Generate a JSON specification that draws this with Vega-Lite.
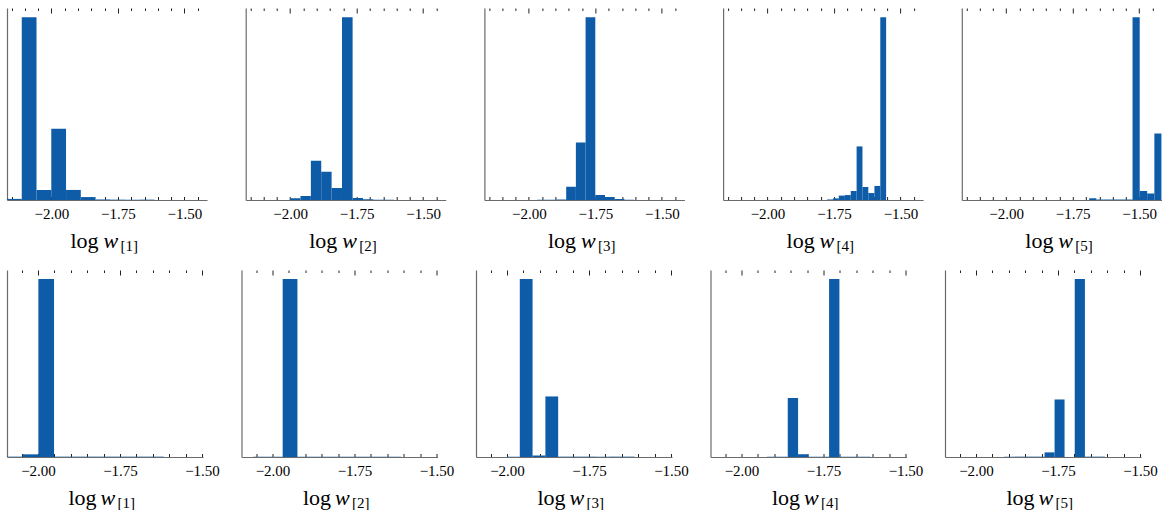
{
"$schema": "https://vega.github.io/schema/vega-lite/v6.json",
"padding": {"left": 4, "top": 7, "right": 0, "bottom": 0},
"background": "white",
"data": {"values": [
{"p":"t1","a":-2.167,"b":-2.1115,"h":0.006},{"p":"t1","a":-2.1115,"b":-2.056,"h":1.0},{"p":"t1","a":-2.056,"b":-2.0005,"h":0.055},{"p":"t1","a":-2.0005,"b":-1.945,"h":0.39},{"p":"t1","a":-1.945,"b":-1.8895,"h":0.055},{"p":"t1","a":-1.8895,"b":-1.834,"h":0.016},{"p":"t1","a":-1.834,"b":-1.7785,"h":0.003},{"p":"t1","a":-1.7785,"b":-1.723,"h":0.002},{"p":"t1","a":-1.723,"b":-1.6675,"h":0.001},{"p":"t1","a":-1.6675,"b":-1.612,"h":0.002},
{"p":"t2","a":-2.0,"b":-1.961,"h":0.009},{"p":"t2","a":-1.961,"b":-1.922,"h":0.022},{"p":"t2","a":-1.922,"b":-1.883,"h":0.214},{"p":"t2","a":-1.883,"b":-1.844,"h":0.154},{"p":"t2","a":-1.844,"b":-1.805,"h":0.066},{"p":"t2","a":-1.805,"b":-1.765,"h":1.0},{"p":"t2","a":-1.765,"b":-1.726,"h":0.011},{"p":"t2","a":-1.726,"b":-1.687,"h":0.004},{"p":"t2","a":-1.687,"b":-1.648,"h":0.002},{"p":"t2","a":-1.648,"b":-1.609,"h":0.002},
{"p":"t3","a":-1.969,"b":-1.9325,"h":0.002},{"p":"t3","a":-1.9325,"b":-1.896,"h":0.002},{"p":"t3","a":-1.896,"b":-1.8595,"h":0.003},{"p":"t3","a":-1.8595,"b":-1.823,"h":0.073},{"p":"t3","a":-1.823,"b":-1.7865,"h":0.314},{"p":"t3","a":-1.7865,"b":-1.75,"h":1.0},{"p":"t3","a":-1.75,"b":-1.7135,"h":0.027},{"p":"t3","a":-1.7135,"b":-1.677,"h":0.016},{"p":"t3","a":-1.677,"b":-1.6405,"h":0.005},{"p":"t3","a":-1.6405,"b":-1.604,"h":0.002},
{"p":"t4","a":-1.776,"b":-1.754,"h":0.003},{"p":"t4","a":-1.754,"b":-1.732,"h":0.009},{"p":"t4","a":-1.732,"b":-1.709,"h":0.024},{"p":"t4","a":-1.709,"b":-1.687,"h":0.027},{"p":"t4","a":-1.687,"b":-1.665,"h":0.049},{"p":"t4","a":-1.665,"b":-1.643,"h":0.293},{"p":"t4","a":-1.643,"b":-1.621,"h":0.071},{"p":"t4","a":-1.621,"b":-1.598,"h":0.038},{"p":"t4","a":-1.598,"b":-1.576,"h":0.077},{"p":"t4","a":-1.576,"b":-1.554,"h":1.0},
{"p":"t5","a":-1.688,"b":-1.661,"h":0.009},{"p":"t5","a":-1.661,"b":-1.634,"h":0.003},{"p":"t5","a":-1.634,"b":-1.606,"h":0.003},{"p":"t5","a":-1.606,"b":-1.579,"h":0.003},{"p":"t5","a":-1.579,"b":-1.552,"h":0.003},{"p":"t5","a":-1.552,"b":-1.525,"h":0.003},{"p":"t5","a":-1.525,"b":-1.498,"h":1.0},{"p":"t5","a":-1.498,"b":-1.47,"h":0.049},{"p":"t5","a":-1.47,"b":-1.443,"h":0.035},{"p":"t5","a":-1.443,"b":-1.416,"h":0.364},
{"p":"b1","a":-2.0945,"b":-2.0467,"h":0.002},{"p":"b1","a":-2.0467,"b":-1.9989,"h":0.015},{"p":"b1","a":-1.9989,"b":-1.9511,"h":1.0},{"p":"b1","a":-1.9511,"b":-1.9033,"h":0.002},{"p":"b1","a":-1.9033,"b":-1.8555,"h":0.002},{"p":"b1","a":-1.8555,"b":-1.8077,"h":0.002},{"p":"b1","a":-1.8077,"b":-1.7599,"h":0.002},{"p":"b1","a":-1.7599,"b":-1.7121,"h":0.002},{"p":"b1","a":-1.7121,"b":-1.6643,"h":0.002},{"p":"b1","a":-1.6643,"b":-1.6165,"h":0.002},
{"p":"b2","a":-2.059,"b":-2.014,"h":0.002},{"p":"b2","a":-2.014,"b":-1.969,"h":0.002},{"p":"b2","a":-1.969,"b":-1.924,"h":1.0},{"p":"b2","a":-1.924,"b":-1.879,"h":0.002},{"p":"b2","a":-1.879,"b":-1.834,"h":0.002},{"p":"b2","a":-1.834,"b":-1.788,"h":0.002},{"p":"b2","a":-1.788,"b":-1.743,"h":0.002},{"p":"b2","a":-1.743,"b":-1.698,"h":0.002},{"p":"b2","a":-1.698,"b":-1.653,"h":0.002},{"p":"b2","a":-1.653,"b":-1.608,"h":0.002},
{"p":"b3","a":-2.0,"b":-1.961,"h":0.002},{"p":"b3","a":-1.961,"b":-1.922,"h":1.0},{"p":"b3","a":-1.922,"b":-1.883,"h":0.009},{"p":"b3","a":-1.883,"b":-1.844,"h":0.34},{"p":"b3","a":-1.844,"b":-1.806,"h":0.002},{"p":"b3","a":-1.806,"b":-1.767,"h":0.002},{"p":"b3","a":-1.767,"b":-1.728,"h":0.002},{"p":"b3","a":-1.728,"b":-1.689,"h":0.002},{"p":"b3","a":-1.689,"b":-1.65,"h":0.002},{"p":"b3","a":-1.65,"b":-1.611,"h":0.002},
{"p":"b4","a":-1.922,"b":-1.8905,"h":0.002},{"p":"b4","a":-1.8905,"b":-1.859,"h":0.002},{"p":"b4","a":-1.859,"b":-1.8275,"h":0.331},{"p":"b4","a":-1.8275,"b":-1.796,"h":0.015},{"p":"b4","a":-1.796,"b":-1.7645,"h":0.002},{"p":"b4","a":-1.7645,"b":-1.733,"h":0.002},{"p":"b4","a":-1.733,"b":-1.7015,"h":1.0},{"p":"b4","a":-1.7015,"b":-1.67,"h":0.002},{"p":"b4","a":-1.67,"b":-1.6385,"h":0.002},{"p":"b4","a":-1.6385,"b":-1.607,"h":0.002},
{"p":"b5","a":-1.914,"b":-1.883,"h":0.002},{"p":"b5","a":-1.883,"b":-1.853,"h":0.002},{"p":"b5","a":-1.853,"b":-1.822,"h":0.002},{"p":"b5","a":-1.822,"b":-1.791,"h":0.002},{"p":"b5","a":-1.791,"b":-1.7605,"h":0.026},{"p":"b5","a":-1.7605,"b":-1.73,"h":0.323},{"p":"b5","a":-1.73,"b":-1.699,"h":0.0},{"p":"b5","a":-1.699,"b":-1.668,"h":1.0},{"p":"b5","a":-1.668,"b":-1.638,"h":0.002},{"p":"b5","a":-1.638,"b":-1.607,"h":0.002}
]},
"spacing": 16,
"vconcat": [
{"bounds": "flush", "spacing": 38.7, "hconcat": [
{"width":200,"height":192,"transform":[{"filter":"datum.p==='t1'"}],"resolve":{"axis":{"x":"independent"}},"layer":[
{"mark":{"type":"bar","color":"#0e5ca8","clip":true},"encoding":{
"x":{"field":"a","type":"quantitative","scale":{"domain":[-2.167,-1.415],"nice":false,"zero":false},"axis":{"orient":"bottom","values":[-2.15,-2.1,-2.05,-2,-1.95,-1.9,-1.85,-1.8,-1.75,-1.7,-1.65,-1.6,-1.55,-1.5,-1.45],"labelExpr":"abs(datum.value*4-round(datum.value*4))<0.01 ? format(datum.value,'.2f') : ''","tickSize":-3.5,"labelPadding":9.5,"title":"log","titleX":63,"titleY":47}},
"x2":{"field":"b"},
"y":{"field":"h","type":"quantitative","scale":{"domain":[0,1.05],"nice":false},"axis":{"ticks":false,"labels":false,"title":"w","titleFontStyle":"italic","titleX":96,"titleY":239}},
"y2":{"datum":0}}},
{"mark":{"type":"point","opacity":0},"encoding":{
"x":{"field":"a","type":"quantitative","scale":{"domain":[-2.167,-1.415],"nice":false,"zero":false},"axis":{"orient":"top","domain":false,"labels":false,"values":[-2.15,-2.1,-2.05,-2,-1.95,-1.9,-1.85,-1.8,-1.75,-1.7,-1.65,-1.6,-1.55,-1.5,-1.45],"tickSize":{"condition":{"test":"abs(datum.value*4-round(datum.value*4))<0.01","value":-5},"value":-2.5},"title":"[1]","titleFontSize":15,"titleX":113,"titleY":242}}}}]},
{"width":200,"height":192,"transform":[{"filter":"datum.p==='t2'"}],"resolve":{"axis":{"x":"independent"}},"layer":[
{"mark":{"type":"bar","color":"#0e5ca8","clip":true},"encoding":{
"x":{"field":"a","type":"quantitative","scale":{"domain":[-2.167,-1.415],"nice":false,"zero":false},"axis":{"orient":"bottom","values":[-2.15,-2.1,-2.05,-2,-1.95,-1.9,-1.85,-1.8,-1.75,-1.7,-1.65,-1.6,-1.55,-1.5,-1.45],"labelExpr":"abs(datum.value*4-round(datum.value*4))<0.01 ? format(datum.value,'.2f') : ''","tickSize":-3.5,"labelPadding":9.5,"title":"log","titleX":63,"titleY":47}},
"x2":{"field":"b"},
"y":{"field":"h","type":"quantitative","scale":{"domain":[0,1.05],"nice":false},"axis":{"ticks":false,"labels":false,"title":"w","titleFontStyle":"italic","titleX":96,"titleY":239}},
"y2":{"datum":0}}},
{"mark":{"type":"point","opacity":0},"encoding":{
"x":{"field":"a","type":"quantitative","scale":{"domain":[-2.167,-1.415],"nice":false,"zero":false},"axis":{"orient":"top","domain":false,"labels":false,"values":[-2.15,-2.1,-2.05,-2,-1.95,-1.9,-1.85,-1.8,-1.75,-1.7,-1.65,-1.6,-1.55,-1.5,-1.45],"tickSize":{"condition":{"test":"abs(datum.value*4-round(datum.value*4))<0.01","value":-5},"value":-2.5},"title":"[2]","titleFontSize":15,"titleX":113,"titleY":242}}}}]},
{"width":200,"height":192,"transform":[{"filter":"datum.p==='t3'"}],"resolve":{"axis":{"x":"independent"}},"layer":[
{"mark":{"type":"bar","color":"#0e5ca8","clip":true},"encoding":{
"x":{"field":"a","type":"quantitative","scale":{"domain":[-2.167,-1.415],"nice":false,"zero":false},"axis":{"orient":"bottom","values":[-2.15,-2.1,-2.05,-2,-1.95,-1.9,-1.85,-1.8,-1.75,-1.7,-1.65,-1.6,-1.55,-1.5,-1.45],"labelExpr":"abs(datum.value*4-round(datum.value*4))<0.01 ? format(datum.value,'.2f') : ''","tickSize":-3.5,"labelPadding":9.5,"title":"log","titleX":63,"titleY":47}},
"x2":{"field":"b"},
"y":{"field":"h","type":"quantitative","scale":{"domain":[0,1.05],"nice":false},"axis":{"ticks":false,"labels":false,"title":"w","titleFontStyle":"italic","titleX":96,"titleY":239}},
"y2":{"datum":0}}},
{"mark":{"type":"point","opacity":0},"encoding":{
"x":{"field":"a","type":"quantitative","scale":{"domain":[-2.167,-1.415],"nice":false,"zero":false},"axis":{"orient":"top","domain":false,"labels":false,"values":[-2.15,-2.1,-2.05,-2,-1.95,-1.9,-1.85,-1.8,-1.75,-1.7,-1.65,-1.6,-1.55,-1.5,-1.45],"tickSize":{"condition":{"test":"abs(datum.value*4-round(datum.value*4))<0.01","value":-5},"value":-2.5},"title":"[3]","titleFontSize":15,"titleX":113,"titleY":242}}}}]},
{"width":200,"height":192,"transform":[{"filter":"datum.p==='t4'"}],"resolve":{"axis":{"x":"independent"}},"layer":[
{"mark":{"type":"bar","color":"#0e5ca8","clip":true},"encoding":{
"x":{"field":"a","type":"quantitative","scale":{"domain":[-2.167,-1.415],"nice":false,"zero":false},"axis":{"orient":"bottom","values":[-2.15,-2.1,-2.05,-2,-1.95,-1.9,-1.85,-1.8,-1.75,-1.7,-1.65,-1.6,-1.55,-1.5,-1.45],"labelExpr":"abs(datum.value*4-round(datum.value*4))<0.01 ? format(datum.value,'.2f') : ''","tickSize":-3.5,"labelPadding":9.5,"title":"log","titleX":63,"titleY":47}},
"x2":{"field":"b"},
"y":{"field":"h","type":"quantitative","scale":{"domain":[0,1.05],"nice":false},"axis":{"ticks":false,"labels":false,"title":"w","titleFontStyle":"italic","titleX":96,"titleY":239}},
"y2":{"datum":0}}},
{"mark":{"type":"point","opacity":0},"encoding":{
"x":{"field":"a","type":"quantitative","scale":{"domain":[-2.167,-1.415],"nice":false,"zero":false},"axis":{"orient":"top","domain":false,"labels":false,"values":[-2.15,-2.1,-2.05,-2,-1.95,-1.9,-1.85,-1.8,-1.75,-1.7,-1.65,-1.6,-1.55,-1.5,-1.45],"tickSize":{"condition":{"test":"abs(datum.value*4-round(datum.value*4))<0.01","value":-5},"value":-2.5},"title":"[4]","titleFontSize":15,"titleX":113,"titleY":242}}}}]},
{"width":200,"height":192,"transform":[{"filter":"datum.p==='t5'"}],"resolve":{"axis":{"x":"independent"}},"layer":[
{"mark":{"type":"bar","color":"#0e5ca8","clip":true},"encoding":{
"x":{"field":"a","type":"quantitative","scale":{"domain":[-2.167,-1.415],"nice":false,"zero":false},"axis":{"orient":"bottom","values":[-2.15,-2.1,-2.05,-2,-1.95,-1.9,-1.85,-1.8,-1.75,-1.7,-1.65,-1.6,-1.55,-1.5,-1.45],"labelExpr":"abs(datum.value*4-round(datum.value*4))<0.01 ? format(datum.value,'.2f') : ''","tickSize":-3.5,"labelPadding":9.5,"title":"log","titleX":63,"titleY":47}},
"x2":{"field":"b"},
"y":{"field":"h","type":"quantitative","scale":{"domain":[0,1.05],"nice":false},"axis":{"ticks":false,"labels":false,"title":"w","titleFontStyle":"italic","titleX":96,"titleY":239}},
"y2":{"datum":0}}},
{"mark":{"type":"point","opacity":0},"encoding":{
"x":{"field":"a","type":"quantitative","scale":{"domain":[-2.167,-1.415],"nice":false,"zero":false},"axis":{"orient":"top","domain":false,"labels":false,"values":[-2.15,-2.1,-2.05,-2,-1.95,-1.9,-1.85,-1.8,-1.75,-1.7,-1.65,-1.6,-1.55,-1.5,-1.45],"tickSize":{"condition":{"test":"abs(datum.value*4-round(datum.value*4))<0.01","value":-5},"value":-2.5},"title":"[5]","titleFontSize":15,"titleX":113,"titleY":242}}}}]}
]},
{"bounds": "flush", "spacing": 38.5, "hconcat": [
{"width":196,"height":187,"transform":[{"filter":"datum.p==='b1'"}],"resolve":{"axis":{"x":"independent"}},"layer":[
{"mark":{"type":"bar","color":"#0e5ca8","clip":true},"encoding":{
"x":{"field":"a","type":"quantitative","scale":{"domain":[-2.0945,-1.497],"nice":false,"zero":false},"axis":{"orient":"bottom","values":[-2.05,-2,-1.95,-1.9,-1.85,-1.8,-1.75,-1.7,-1.65,-1.6,-1.55,-1.5],"labelExpr":"abs(datum.value*4-round(datum.value*4))<0.01 ? format(datum.value,'.2f') : ''","tickSize":-3.5,"labelPadding":9.5,"title":"log","titleX":61,"titleY":47}},
"x2":{"field":"b"},
"y":{"field":"h","type":"quantitative","scale":{"domain":[0,1.05],"nice":false},"axis":{"ticks":false,"labels":false,"title":"w","titleFontStyle":"italic","titleX":93,"titleY":234}},
"y2":{"datum":0}}},
{"mark":{"type":"point","opacity":0},"encoding":{
"x":{"field":"a","type":"quantitative","scale":{"domain":[-2.0945,-1.497],"nice":false,"zero":false},"axis":{"orient":"top","domain":false,"labels":false,"values":[-2.05,-2,-1.95,-1.9,-1.85,-1.8,-1.75,-1.7,-1.65,-1.6,-1.55,-1.5],"tickSize":{"condition":{"test":"abs(datum.value*4-round(datum.value*4))<0.01","value":-5},"value":-2.5},"title":"[1]","titleFontSize":15,"titleX":110,"titleY":237}}}}]},
{"width":196,"height":187,"transform":[{"filter":"datum.p==='b2'"}],"resolve":{"axis":{"x":"independent"}},"layer":[
{"mark":{"type":"bar","color":"#0e5ca8","clip":true},"encoding":{
"x":{"field":"a","type":"quantitative","scale":{"domain":[-2.0945,-1.497],"nice":false,"zero":false},"axis":{"orient":"bottom","values":[-2.05,-2,-1.95,-1.9,-1.85,-1.8,-1.75,-1.7,-1.65,-1.6,-1.55,-1.5],"labelExpr":"abs(datum.value*4-round(datum.value*4))<0.01 ? format(datum.value,'.2f') : ''","tickSize":-3.5,"labelPadding":9.5,"title":"log","titleX":61,"titleY":47}},
"x2":{"field":"b"},
"y":{"field":"h","type":"quantitative","scale":{"domain":[0,1.05],"nice":false},"axis":{"ticks":false,"labels":false,"title":"w","titleFontStyle":"italic","titleX":93,"titleY":234}},
"y2":{"datum":0}}},
{"mark":{"type":"point","opacity":0},"encoding":{
"x":{"field":"a","type":"quantitative","scale":{"domain":[-2.0945,-1.497],"nice":false,"zero":false},"axis":{"orient":"top","domain":false,"labels":false,"values":[-2.05,-2,-1.95,-1.9,-1.85,-1.8,-1.75,-1.7,-1.65,-1.6,-1.55,-1.5],"tickSize":{"condition":{"test":"abs(datum.value*4-round(datum.value*4))<0.01","value":-5},"value":-2.5},"title":"[2]","titleFontSize":15,"titleX":110,"titleY":237}}}}]},
{"width":196,"height":187,"transform":[{"filter":"datum.p==='b3'"}],"resolve":{"axis":{"x":"independent"}},"layer":[
{"mark":{"type":"bar","color":"#0e5ca8","clip":true},"encoding":{
"x":{"field":"a","type":"quantitative","scale":{"domain":[-2.0945,-1.497],"nice":false,"zero":false},"axis":{"orient":"bottom","values":[-2.05,-2,-1.95,-1.9,-1.85,-1.8,-1.75,-1.7,-1.65,-1.6,-1.55,-1.5],"labelExpr":"abs(datum.value*4-round(datum.value*4))<0.01 ? format(datum.value,'.2f') : ''","tickSize":-3.5,"labelPadding":9.5,"title":"log","titleX":61,"titleY":47}},
"x2":{"field":"b"},
"y":{"field":"h","type":"quantitative","scale":{"domain":[0,1.05],"nice":false},"axis":{"ticks":false,"labels":false,"title":"w","titleFontStyle":"italic","titleX":93,"titleY":234}},
"y2":{"datum":0}}},
{"mark":{"type":"point","opacity":0},"encoding":{
"x":{"field":"a","type":"quantitative","scale":{"domain":[-2.0945,-1.497],"nice":false,"zero":false},"axis":{"orient":"top","domain":false,"labels":false,"values":[-2.05,-2,-1.95,-1.9,-1.85,-1.8,-1.75,-1.7,-1.65,-1.6,-1.55,-1.5],"tickSize":{"condition":{"test":"abs(datum.value*4-round(datum.value*4))<0.01","value":-5},"value":-2.5},"title":"[3]","titleFontSize":15,"titleX":110,"titleY":237}}}}]},
{"width":196,"height":187,"transform":[{"filter":"datum.p==='b4'"}],"resolve":{"axis":{"x":"independent"}},"layer":[
{"mark":{"type":"bar","color":"#0e5ca8","clip":true},"encoding":{
"x":{"field":"a","type":"quantitative","scale":{"domain":[-2.0945,-1.497],"nice":false,"zero":false},"axis":{"orient":"bottom","values":[-2.05,-2,-1.95,-1.9,-1.85,-1.8,-1.75,-1.7,-1.65,-1.6,-1.55,-1.5],"labelExpr":"abs(datum.value*4-round(datum.value*4))<0.01 ? format(datum.value,'.2f') : ''","tickSize":-3.5,"labelPadding":9.5,"title":"log","titleX":61,"titleY":47}},
"x2":{"field":"b"},
"y":{"field":"h","type":"quantitative","scale":{"domain":[0,1.05],"nice":false},"axis":{"ticks":false,"labels":false,"title":"w","titleFontStyle":"italic","titleX":93,"titleY":234}},
"y2":{"datum":0}}},
{"mark":{"type":"point","opacity":0},"encoding":{
"x":{"field":"a","type":"quantitative","scale":{"domain":[-2.0945,-1.497],"nice":false,"zero":false},"axis":{"orient":"top","domain":false,"labels":false,"values":[-2.05,-2,-1.95,-1.9,-1.85,-1.8,-1.75,-1.7,-1.65,-1.6,-1.55,-1.5],"tickSize":{"condition":{"test":"abs(datum.value*4-round(datum.value*4))<0.01","value":-5},"value":-2.5},"title":"[4]","titleFontSize":15,"titleX":110,"titleY":237}}}}]},
{"width":196,"height":187,"transform":[{"filter":"datum.p==='b5'"}],"resolve":{"axis":{"x":"independent"}},"layer":[
{"mark":{"type":"bar","color":"#0e5ca8","clip":true},"encoding":{
"x":{"field":"a","type":"quantitative","scale":{"domain":[-2.0945,-1.497],"nice":false,"zero":false},"axis":{"orient":"bottom","values":[-2.05,-2,-1.95,-1.9,-1.85,-1.8,-1.75,-1.7,-1.65,-1.6,-1.55,-1.5],"labelExpr":"abs(datum.value*4-round(datum.value*4))<0.01 ? format(datum.value,'.2f') : ''","tickSize":-3.5,"labelPadding":9.5,"title":"log","titleX":61,"titleY":47}},
"x2":{"field":"b"},
"y":{"field":"h","type":"quantitative","scale":{"domain":[0,1.05],"nice":false},"axis":{"ticks":false,"labels":false,"title":"w","titleFontStyle":"italic","titleX":93,"titleY":234}},
"y2":{"datum":0}}},
{"mark":{"type":"point","opacity":0},"encoding":{
"x":{"field":"a","type":"quantitative","scale":{"domain":[-2.0945,-1.497],"nice":false,"zero":false},"axis":{"orient":"top","domain":false,"labels":false,"values":[-2.05,-2,-1.95,-1.9,-1.85,-1.8,-1.75,-1.7,-1.65,-1.6,-1.55,-1.5],"tickSize":{"condition":{"test":"abs(datum.value*4-round(datum.value*4))<0.01","value":-5},"value":-2.5},"title":"[5]","titleFontSize":15,"titleX":110,"titleY":237}}}}]}
]}
],
"config": {
"view": {"stroke": null},
"axis": {"grid": false, "labelFont": "Liberation Serif", "labelFontSize": 15, "labelColor": "#000", "labelFlush": false, "labelOverlap": false, "labelBound": false,
"titleFont": "Liberation Serif", "titleFontSize": 22, "titleFontWeight": "normal", "titleColor": "#000", "titleAngle": 0, "titleAlign": "left", "titleBaseline": "alphabetic", "titlePadding": 0,
"tickColor": "#222", "tickWidth": 1, "domainColor": "#6a6a6a", "domainWidth": 1.2}
}
}
